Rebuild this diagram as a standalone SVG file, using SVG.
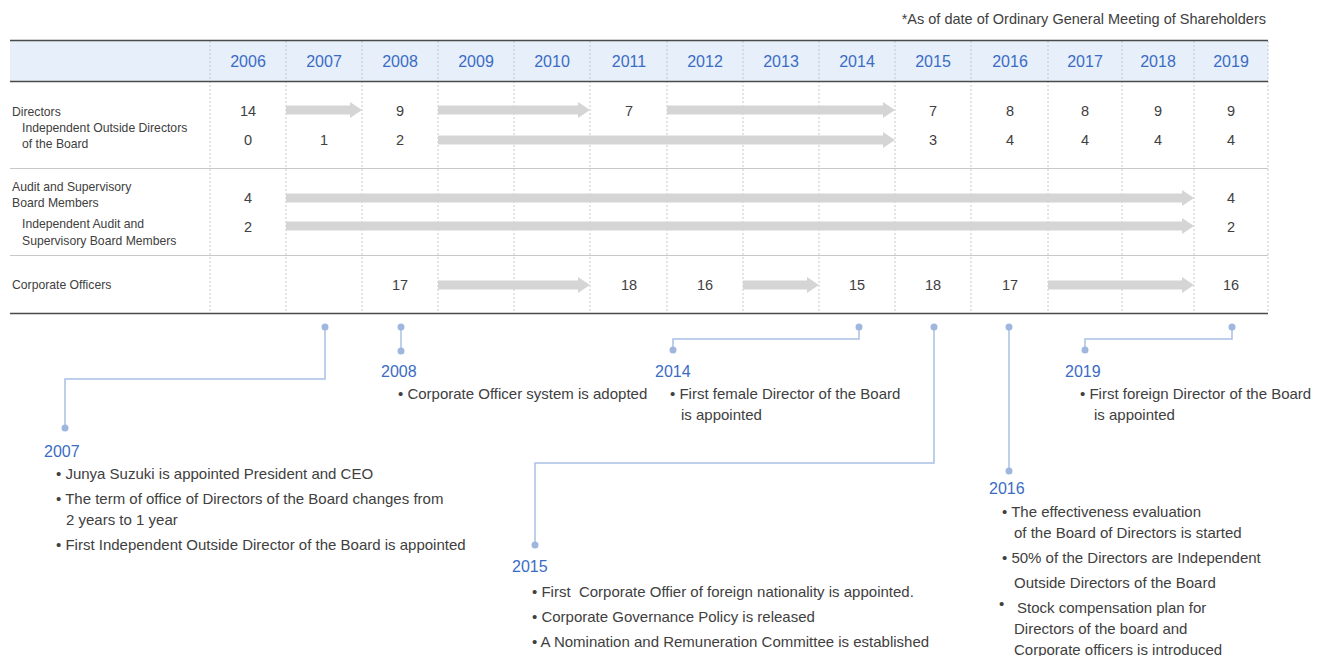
<svg xmlns="http://www.w3.org/2000/svg" width="1326" height="656" viewBox="0 0 1326 656">
<style>
text{font-family:"Liberation Sans",Arial,sans-serif;fill:#404040}
.yr{font-size:16px;fill:#3a6cc4;text-anchor:middle}
.num{font-size:14.5px;text-anchor:middle}
.lbl{font-size:12.2px}
.note{font-size:14.5px;text-anchor:end}
.ty{font-size:16px;fill:#3a6cc4}
.bt{font-size:15px;white-space:pre}
.grid{stroke:#c4c8d0;stroke-width:1;stroke-dasharray:2 2}
.arr{fill:#d5d5d5}
.tl{fill:none;stroke:#a9c0e6;stroke-width:1.5}
.dot{fill:#9fb7df}
</style>
<rect width="1326" height="656" fill="#ffffff"/>
<text class="note" x="1266" y="24">*As of date of Ordinary General Meeting of Shareholders</text>
<g id="table">
<rect x="10" y="41" width="1258" height="40" fill="#e7effa"/>
<g class="grid">
<line x1="210" y1="41" x2="210" y2="313"/><line x1="286" y1="41" x2="286" y2="313"/><line x1="362" y1="41" x2="362" y2="313"/><line x1="438" y1="41" x2="438" y2="313"/><line x1="514" y1="41" x2="514" y2="313"/><line x1="590" y1="41" x2="590" y2="313"/><line x1="667" y1="41" x2="667" y2="313"/><line x1="743" y1="41" x2="743" y2="313"/><line x1="819" y1="41" x2="819" y2="313"/><line x1="895" y1="41" x2="895" y2="313"/><line x1="971" y1="41" x2="971" y2="313"/><line x1="1048" y1="41" x2="1048" y2="313"/><line x1="1122" y1="41" x2="1122" y2="313"/><line x1="1194" y1="41" x2="1194" y2="313"/><line x1="1268" y1="41" x2="1268" y2="313"/>
</g>
<line x1="10" y1="40.5" x2="1268" y2="40.5" stroke="#4a4a4a" stroke-width="1.5"/>
<line x1="10" y1="81.5" x2="1268" y2="81.5" stroke="#4a4a4a" stroke-width="1.5"/>
<line x1="10" y1="168.5" x2="1268" y2="168.5" stroke="#c8c8c8" stroke-width="1"/>
<line x1="10" y1="255.5" x2="1268" y2="255.5" stroke="#c8c8c8" stroke-width="1"/>
<line x1="10" y1="313.5" x2="1268" y2="313.5" stroke="#4a4a4a" stroke-width="1.5"/>
<g>
<text class="yr" x="248" y="67">2006</text><text class="yr" x="324" y="67">2007</text><text class="yr" x="400" y="67">2008</text><text class="yr" x="476" y="67">2009</text><text class="yr" x="552" y="67">2010</text><text class="yr" x="629" y="67">2011</text><text class="yr" x="705" y="67">2012</text><text class="yr" x="781" y="67">2013</text><text class="yr" x="857" y="67">2014</text><text class="yr" x="933" y="67">2015</text><text class="yr" x="1010" y="67">2016</text><text class="yr" x="1085" y="67">2017</text><text class="yr" x="1158" y="67">2018</text><text class="yr" x="1231" y="67">2019</text>
</g>
<g>
<text class="lbl" x="12" y="116">Directors</text>
<text class="lbl" x="22" y="132">Independent Outside Directors</text>
<text class="lbl" x="22" y="148">of the Board</text>
<text class="lbl" x="12" y="191">Audit and Supervisory</text>
<text class="lbl" x="12" y="207">Board Members</text>
<text class="lbl" x="22" y="228">Independent Audit and</text>
<text class="lbl" x="22" y="245">Supervisory Board Members</text>
<text class="lbl" x="12" y="289">Corporate Officers</text>
</g>
<g>
<text class="num" x="248" y="116">14</text><text class="num" x="400" y="116">9</text><text class="num" x="629" y="116">7</text><text class="num" x="933" y="116">7</text><text class="num" x="1010" y="116">8</text><text class="num" x="1085" y="116">8</text><text class="num" x="1158" y="116">9</text><text class="num" x="1231" y="116">9</text>
<text class="num" x="248" y="145">0</text><text class="num" x="324" y="145">1</text><text class="num" x="400" y="145">2</text><text class="num" x="933" y="145">3</text><text class="num" x="1010" y="145">4</text><text class="num" x="1085" y="145">4</text><text class="num" x="1158" y="145">4</text><text class="num" x="1231" y="145">4</text>
<text class="num" x="248" y="203">4</text><text class="num" x="1231" y="203">4</text>
<text class="num" x="248" y="232">2</text><text class="num" x="1231" y="232">2</text>
<text class="num" x="400" y="290">17</text><text class="num" x="629" y="290">18</text><text class="num" x="705" y="290">16</text><text class="num" x="857" y="290">15</text><text class="num" x="933" y="290">18</text><text class="num" x="1010" y="290">17</text><text class="num" x="1231" y="290">16</text>
</g>
</g>
<g id="connectors">
<g id="arrows">
<path class="arr" d="M286 105.5H350V102L362 110L350 118V114.5H286Z"/>
<path class="arr" d="M438 105.5H578V102L590 110L578 118V114.5H438Z"/>
<path class="arr" d="M667 105.5H883V102L895 110L883 118V114.5H667Z"/>
<path class="arr" d="M438 135.5H883V132L895 140L883 148V144.5H438Z"/>
<path class="arr" d="M286 193.5H1182V190L1194 198L1182 206V202.5H286Z"/>
<path class="arr" d="M286 221.5H1182V218L1194 226L1182 234V230.5H286Z"/>
<path class="arr" d="M438 280.5H578V277L590 285L578 293V289.5H438Z"/>
<path class="arr" d="M743 280.5H807V277L819 285L807 293V289.5H743Z"/>
<path class="arr" d="M1048 280.5H1182V277L1194 285L1182 293V289.5H1048Z"/>
</g>
<g id="timeline">
<path class="tl" d="M325 327V379H65V428"/>
<path class="tl" d="M401 327V351"/>
<path class="tl" d="M859 327V339H673V350"/>
<path class="tl" d="M934 327V463H535V545"/>
<path class="tl" d="M1009 327V471"/>
<path class="tl" d="M1232 327V339H1085V350"/>
<g class="dot">
<circle cx="325" cy="327" r="3.5"/><circle cx="65" cy="428" r="3.5"/>
<circle cx="401" cy="327" r="3.5"/><circle cx="401" cy="351" r="3.5"/>
<circle cx="859" cy="327" r="3.5"/><circle cx="673" cy="350" r="3.5"/>
<circle cx="934" cy="327" r="3.5"/><circle cx="535" cy="545" r="3.5"/>
<circle cx="1009" cy="327" r="3.5"/><circle cx="1009" cy="471" r="3.5"/>
<circle cx="1232" cy="327" r="3.5"/><circle cx="1085" cy="350" r="3.5"/>
</g>
</g>
</g>
<g id="ev2007">
<text class="ty" x="44" y="457">2007</text>
<text class="bt" x="56" y="479">• Junya Suzuki is appointed President and CEO</text>
<text class="bt" x="56" y="504">• The term of office of Directors of the Board changes from</text>
<text class="bt" x="66" y="525">2 years to 1 year</text>
<text class="bt" x="56" y="550">• First Independent Outside Director of the Board is appointed</text>
</g>
<g id="ev2008">
<text class="ty" x="381" y="377">2008</text>
<text class="bt" x="398" y="399">• Corporate Officer system is adopted</text>
</g>
<g id="ev2014">
<text class="ty" x="655" y="377">2014</text>
<text class="bt" x="670" y="399">• First female Director of the Board</text>
<text class="bt" x="681" y="420">is appointed</text>
</g>
<g id="ev2015">
<text class="ty" x="512" y="572">2015</text>
<text class="bt" x="532" y="597">• First  Corporate Offier of foreign nationality is appointed.</text>
<text class="bt" x="532" y="622">• Corporate Governance Policy is released</text>
<text class="bt" x="532" y="647">• A Nomination and Remuneration Committee is established</text>
</g>
<g id="ev2016">
<text class="ty" x="989" y="494">2016</text>
<text class="bt" x="1002" y="517">• The effectiveness evaluation</text>
<text class="bt" x="1014" y="538">of the Board of Directors is started</text>
<text class="bt" x="1002" y="563">• 50% of the Directors are Independent</text>
<text class="bt" x="1014" y="588">Outside Directors of the Board</text>
<text class="bt" x="999" y="609">•</text>
<text class="bt" x="1017" y="613">Stock compensation plan for</text>
<text class="bt" x="1014" y="634">Directors of the board and</text>
<text class="bt" x="1014" y="655">Corporate officers is introduced</text>
</g>
<g id="ev2019">
<text class="ty" x="1065" y="377">2019</text>
<text class="bt" x="1080" y="399">• First foreign Director of the Board</text>
<text class="bt" x="1094" y="420">is appointed</text>
</g>
</svg>
